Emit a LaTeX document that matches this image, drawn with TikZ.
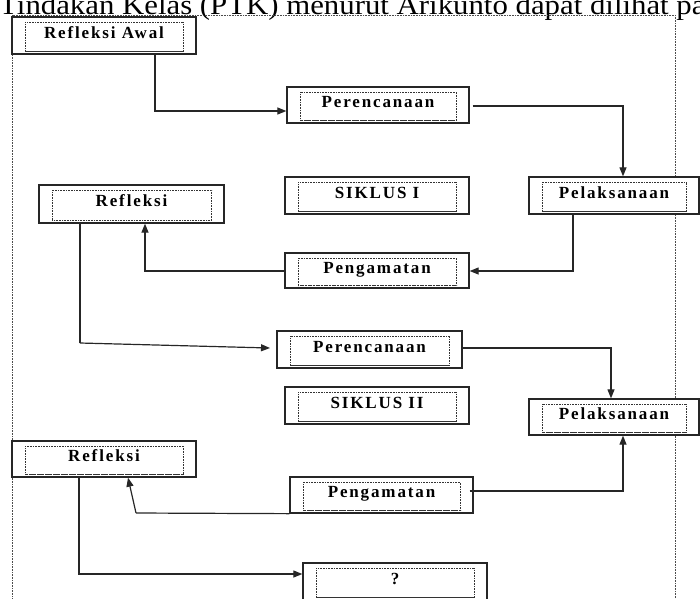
\documentclass[tikz,border=0pt]{standalone}
\usepackage{fontspec}
\setmainfont{Liberation Serif}
\usetikzlibrary{arrows.meta,calc}
\newcommand\innerbox[1]{%
  \draw[innerdot] ([xshift=14pt,yshift=-6pt]#1.north west) rectangle ([xshift=-13pt,yshift=3pt]#1.south east);
  \draw[innerdot,line width=1.3pt] ([xshift=14pt,yshift=3.5pt]#1.south west) -- ([xshift=-13pt,yshift=3.5pt]#1.south east);}
\begin{document}
\begin{tikzpicture}[x=1pt,y=-1pt,
  box/.style={draw=black!85,line width=1.3pt,inner sep=0pt,text height=12pt,text depth=7pt,
    font=\bfseries\fontsize{17}{17}\selectfont\addfontfeature{LetterSpace=11}},
  innerdot/.style={draw=black!80,line width=0.8pt,dash pattern=on 0.8pt off 0.8pt},
  frame/.style={draw=black!70,line width=0.9pt,dash pattern=on 0.8pt off 0.8pt},
  arr/.style={draw=black!85,line width=1.2pt,-{Triangle[length=9pt,width=7pt]}},
  ln/.style={draw=black!85,line width=1.2pt}]
\useasboundingbox (0,0) rectangle (700,598);
\begin{scope}
\clip (0,0) rectangle (700,598);
\node[anchor=base west,font=\fontsize{28}{28}\selectfont,inner sep=0pt] (title) at (-1,14) {\scalebox{1.1}[1]{Tindakan Kelas (PTK) menurut Arikunto dapat dilihat pada}};
\draw[frame] (12,600) -- (12,15) -- (675,15) -- (675,600);
% boxes
\node[box,minimum width=184pt,minimum height=37pt] (ra) at (104,35.5) {Refleksi Awal};
\node[box,minimum width=182pt,minimum height=36pt] (p1) at (378,105) {Perencanaan};
\node[box,minimum width=184pt,minimum height=37pt] (s1) at (377,195.5) {SIKLUS I};
\node[box,minimum width=170pt,minimum height=37pt,fill=white] (l1) at (614,195.5) {Pelaksanaan};
\node[box,minimum width=184pt,minimum height=35pt] (g1) at (377,270.5) {Pengamatan};
\node[box,minimum width=185pt,minimum height=38pt] (r1) at (131.5,204) {Refleksi};
\node[box,minimum width=185pt,minimum height=37pt] (p2) at (369.5,349.5) {Perencanaan};
\node[box,minimum width=184pt,minimum height=37pt] (s2) at (377,405.5) {SIKLUS II};
\node[box,minimum width=170pt,minimum height=36pt,fill=white] (l2) at (614,417) {Pelaksanaan};
\node[box,minimum width=184pt,minimum height=36pt] (r2) at (104,459) {Refleksi};
\node[box,minimum width=183pt,minimum height=36pt] (g2) at (381.5,495) {Pengamatan};
\node[box,minimum width=184pt,minimum height=37pt,fill=white] (q) at (395,581.5) {?};
\foreach \n in {ra,p1,s1,l1,g1,r1,p2,s2,l2,r2,g2,q} {\innerbox{\n}}
% coordinates
\coordinate (c1) at (155,111);
\coordinate (c2) at (623,106);
\coordinate (c3) at (573,271);
\coordinate (c4) at (145,271);
\coordinate (c5) at (80,343);
\coordinate (c6) at (270,348);
\coordinate (c7) at (611,348);
\coordinate (c8) at (623,491);
\coordinate (c9) at (136,513);
\coordinate (c10) at (128,477);
\coordinate (c11) at (79,574);
% connectors
\draw[arr] (ra.south -| c1) |- (p1.west |- c1);
\draw[arr,shorten <=3pt] (p1.east |- c2) -| (l1.north -| c2);
\draw[arr] (l1.south -| c3) |- (g1.east |- c3);
\draw[arr] (g1.west |- c4) -| (r1.south -| c4);
\draw[ln] (r1.south -| c5) -- (c5);
\draw[arr] (c5) -- (c6);
\draw[arr] (p2.east |- c7) -| (l2.north -| c7);
\draw[arr] ([xshift=-4pt]g2.east |- c8) -| (l2.south -| c8);
\draw[ln] (g2.south west) -- (c9);
\draw[arr] (c9) -- (r2.south -| c10);
\draw[arr] (r2.south -| c11) |- (q.west |- c11);
\end{scope}
\end{tikzpicture}
\end{document}
